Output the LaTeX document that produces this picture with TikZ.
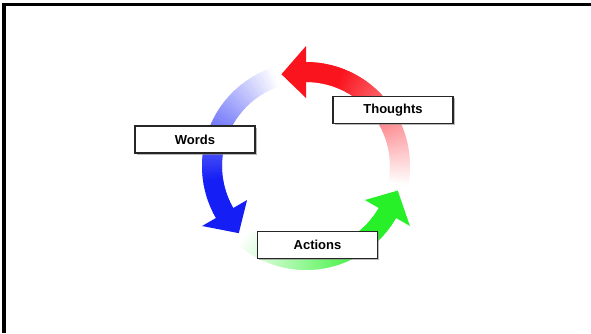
\documentclass[tikz,border=0pt]{standalone}
\usepackage{fontspec}
\newfontfamily\labelfont{Liberation Sans}
\usetikzlibrary{shadows}
\definecolor{thoughtred}{RGB}{250,20,30}
\definecolor{wordblue}{RGB}{20,30,245}
\definecolor{actiongreen}{RGB}{40,240,40}
\begin{document}
\begin{tikzpicture}[
    x=1pt, y=1pt,
    labelbox/.style={rectangle, draw=black!85, line width=1.2pt, fill=white, minimum width=120pt, minimum height=27pt, font=\labelfont\bfseries\fontsize{13}{15}\selectfont, drop shadow={shadow xshift=1.5pt, shadow yshift=-1.5pt, fill=black!45, opacity=0.6}},
    ring/.style={line width=20pt}
]
\useasboundingbox (0,0) rectangle (591,333);
\draw[line width=3.5pt] (4,0) -- (4,328.5) -- (591,328.5);

\begin{scope}[shift={(306,167)}]
\foreach \col/\off in {thoughtred/0, wordblue/120, actiongreen/240} {
  \foreach \i in {0,...,102} {
    \pgfmathsetmacro\a{\off-12+\i}
    \pgfmathtruncatemacro\p{min(100,\i*100/80)}
    \draw[ring, \col!\p!white] (\a:94) arc[start angle=\a, end angle=\a+1.5, radius=94];
  }
  \fill[\col] (\off+90:68) -- (\off+90:120) -- (\off+105:95) -- cycle;
}
\end{scope}

\node[labelbox] (thoughts) at (393,223) {Thoughts};
\node[labelbox] (words) at (195,193.5) {Words};
\node[labelbox] (actions) at (317.5,88) {Actions};
\end{tikzpicture}
\end{document}
